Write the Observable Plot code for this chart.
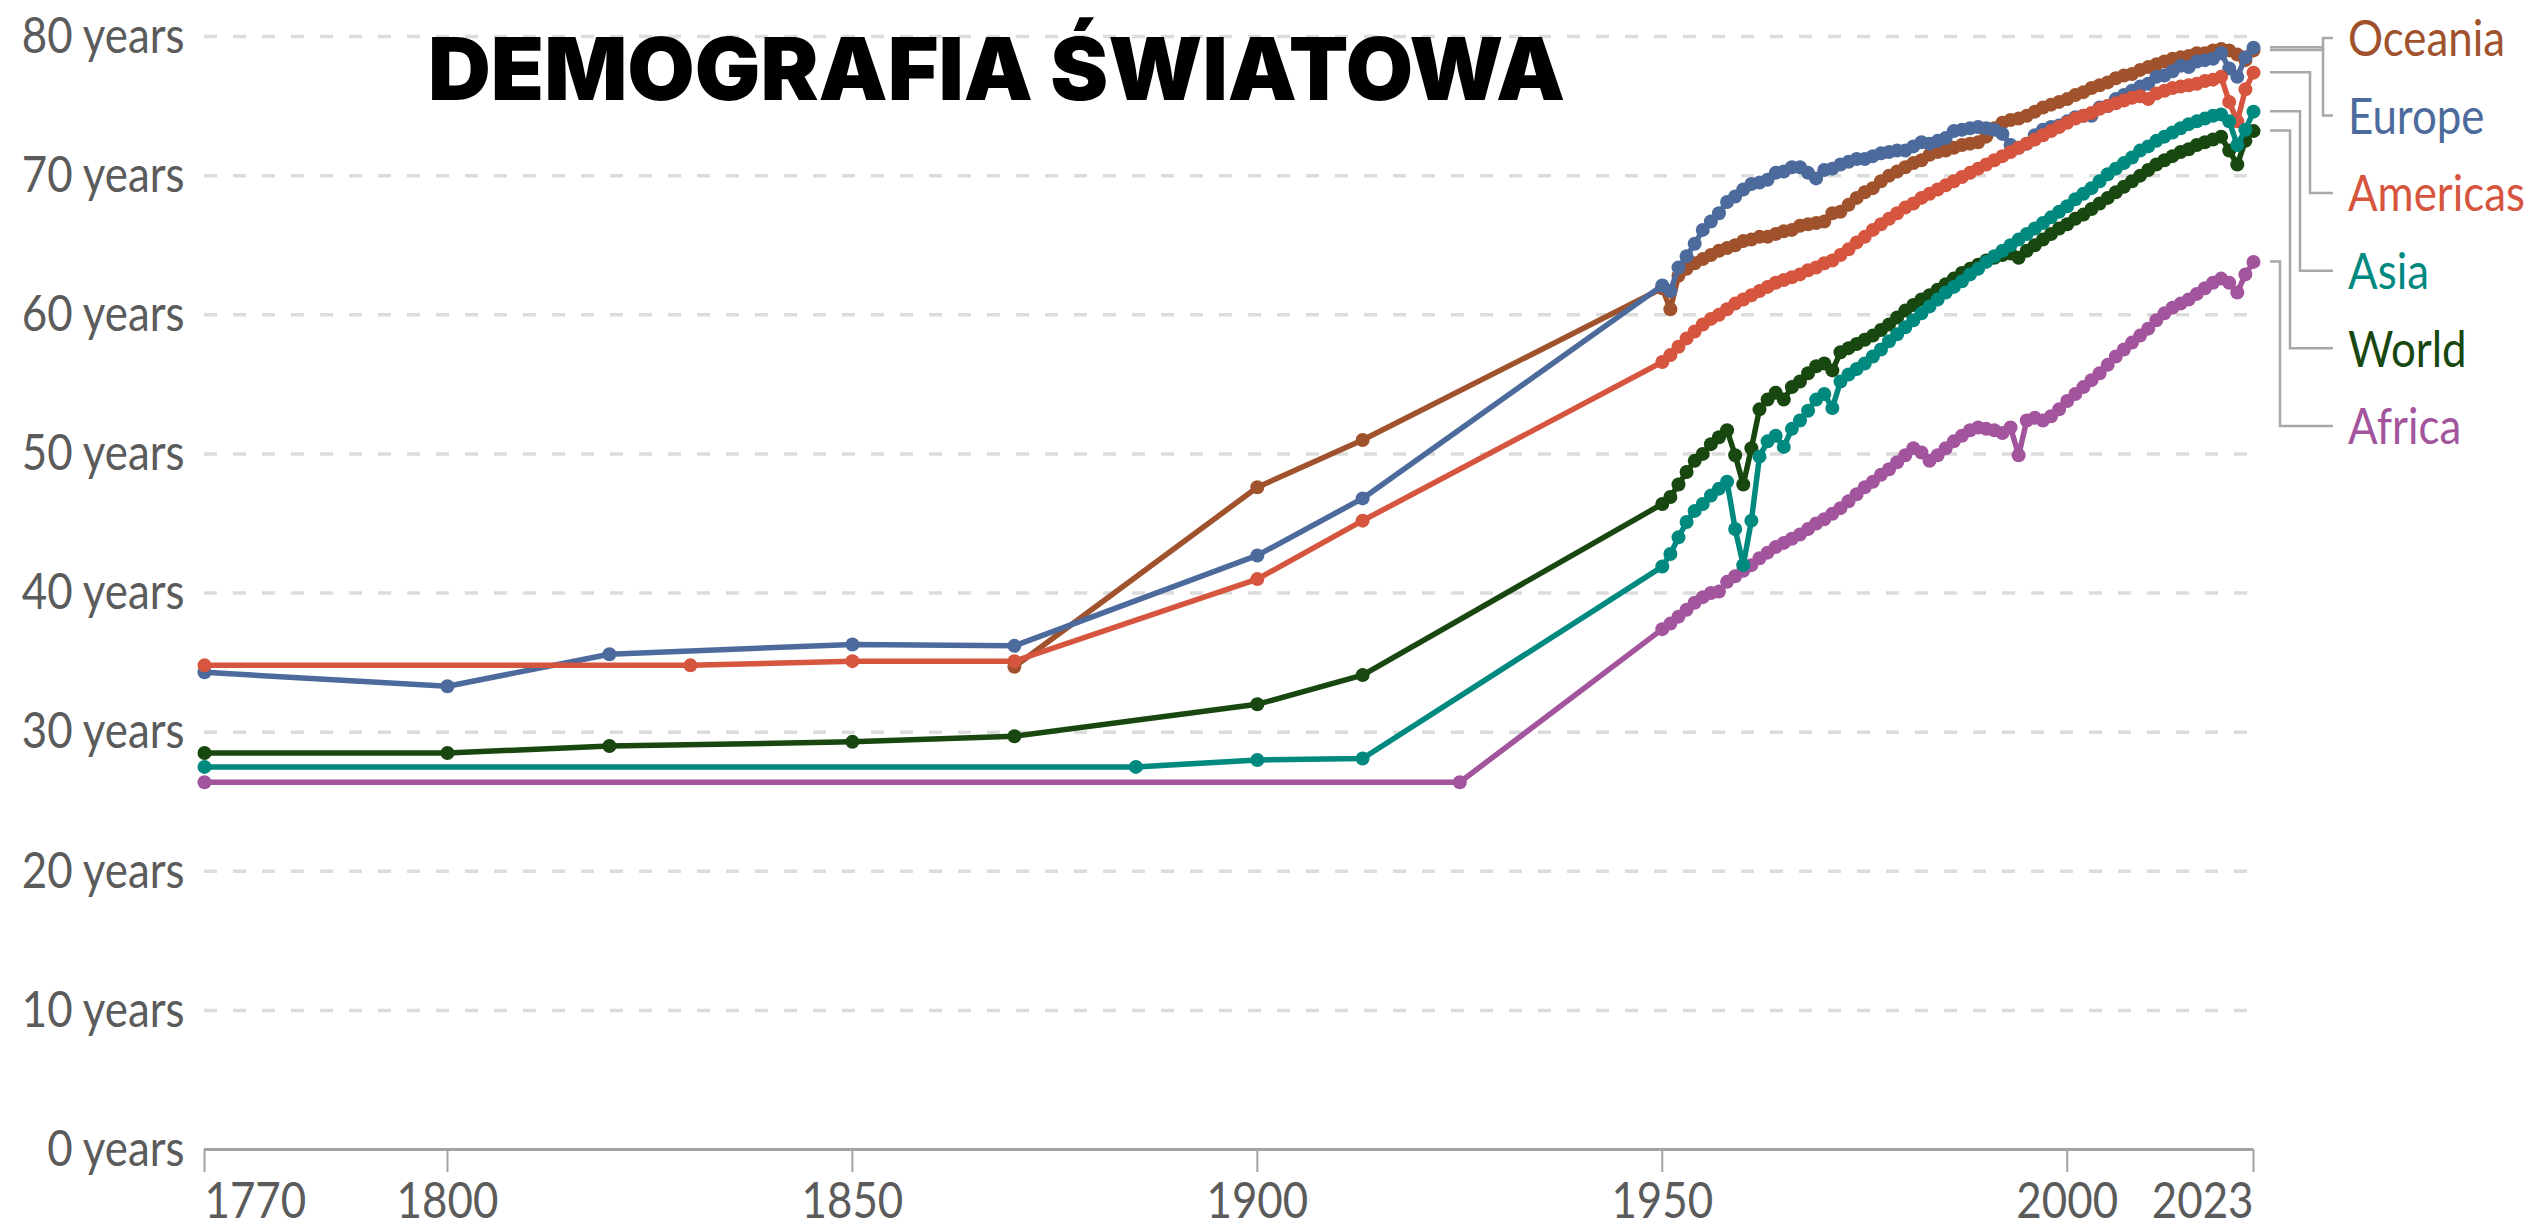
<!DOCTYPE html>
<html>
<head>
<meta charset="utf-8">
<script src="https://cdn.jsdelivr.net/npm/d3@7"></script>
<script src="https://cdn.jsdelivr.net/npm/@observablehq/plot@0.6"></script>
<style>
  html, body { margin: 0; padding: 0; background: #fff; }
  #chart { position: relative; width: 2542px; height: 1232px; overflow: hidden; background: #fff; }
</style>
</head>
<body>
<div id="chart"></div>
<script>
// ---------- DATA ----------
const titleText = "DEMOGRAFIA ŚWIATOWA";
const regions = ["Oceania", "Europe", "Americas", "Asia", "World", "Africa"];
const regionColors = ["#a0522d", "#4c6a9c", "#d6553e", "#00897e", "#18470f", "#a2559c"];
const drawOrder = ["Oceania", "Europe", "Americas", "Africa", "World", "Asia"];

const yTicks = [0, 10, 20, 30, 40, 50, 60, 70, 80];
const xTicksMiddle = [1800, 1850, 1900, 1950, 2000];
const xTickFirst = [1770];
const xTickLast = [2023];

const modernYears = d3.range(1950, 2024);

const oceaniaEarlyYears = [1870, 1900, 1913];
const oceaniaEarly = [34.7, 47.6, 51.0];
const oceaniaModern = [
  61.9, 60.4, 62.8, 63.3, 63.7, 64.0, 64.3, 64.6, 64.8, 65.0,
  65.3, 65.4, 65.6, 65.6, 65.8, 66.0, 66.1, 66.4, 66.5, 66.6,
  66.7, 67.3, 67.4, 67.9, 68.4, 68.8, 69.1, 69.6, 70.0, 70.3,
  70.6, 70.9, 71.1, 71.5, 71.7, 71.8, 72.0, 72.2, 72.3, 72.4,
  72.8, 73.4, 73.8, 74.0, 74.1, 74.3, 74.6, 74.9, 75.1, 75.3,
  75.5, 75.8, 76.0, 76.3, 76.5, 76.7, 77.0, 77.2, 77.3, 77.6,
  77.8, 78.0, 78.2, 78.4, 78.5, 78.6, 78.8, 78.8, 79.0, 79.1,
  79.0, 78.7, 78.3, 79.0
];

const europeEarlyYears = [1770, 1800, 1820, 1850, 1870, 1900, 1913];
const europeEarly = [34.3, 33.3, 35.6, 36.3, 36.2, 42.7, 46.8];
const europeModern = [
  62.1, 61.7, 63.4, 64.2, 65.1, 66.1, 66.7, 67.3, 68.1, 68.5,
  69.0, 69.4, 69.5, 69.7, 70.2, 70.3, 70.6, 70.6, 70.2, 69.8,
  70.4, 70.5, 70.8, 71.0, 71.2, 71.2, 71.4, 71.6, 71.7, 71.8,
  71.8, 72.1, 72.4, 72.3, 72.5, 72.7, 73.2, 73.3, 73.4, 73.5,
  73.4, 73.3, 73.0, 72.2, 72.0, 72.3, 72.9, 73.3, 73.5, 73.6,
  73.9, 74.2, 74.3, 74.3, 74.9, 75.0, 75.5, 75.8, 76.1, 76.4,
  76.6, 77.1, 77.2, 77.5, 77.9, 77.8, 78.2, 78.3, 78.4, 78.8,
  77.7, 77.1, 78.5, 79.2
];

const americasEarlyYears = [1770, 1830, 1850, 1870, 1900, 1913];
const americasEarly = [34.8, 34.8, 35.1, 35.1, 41.0, 45.2];
const americasModern = [
  56.6, 57.1, 57.7, 58.3, 58.8, 59.3, 59.7, 60.0, 60.4, 60.8,
  61.1, 61.4, 61.7, 62.0, 62.3, 62.5, 62.7, 62.9, 63.2, 63.4,
  63.7, 63.9, 64.3, 64.7, 65.2, 65.6, 66.1, 66.5, 66.9, 67.3,
  67.7, 68.0, 68.4, 68.7, 69.0, 69.3, 69.6, 69.9, 70.2, 70.5,
  70.8, 71.1, 71.4, 71.7, 72.0, 72.3, 72.6, 72.9, 73.2, 73.5,
  73.8, 74.1, 74.3, 74.5, 74.8, 75.0, 75.2, 75.4, 75.6, 75.7,
  75.5, 75.9, 76.1, 76.3, 76.4, 76.5, 76.6, 76.8, 76.9, 77.1,
  75.3, 73.9, 76.2, 77.4
];

const asiaEarlyYears = [1770, 1885, 1900, 1913];
const asiaEarly = [27.5, 27.5, 28.0, 28.1];
const asiaModern = [
  41.9, 42.8, 44.0, 45.1, 45.9, 46.4, 47.0, 47.5, 48.0, 44.6,
  42.0, 45.2, 49.8, 50.9, 51.3, 50.5, 51.8, 52.4, 53.1, 53.9,
  54.3, 53.3, 55.2, 55.7, 56.1, 56.5, 57.0, 57.5, 58.1, 58.6,
  59.1, 59.6, 60.1, 60.6, 61.1, 61.6, 62.0, 62.4, 62.9, 63.3,
  63.8, 64.2, 64.6, 65.0, 65.4, 65.8, 66.2, 66.6, 67.0, 67.4,
  67.8, 68.3, 68.7, 69.1, 69.6, 70.1, 70.5, 70.9, 71.3, 71.8,
  72.1, 72.5, 72.8, 73.1, 73.4, 73.7, 73.9, 74.1, 74.3, 74.4,
  73.9, 72.2, 73.3, 74.6
];

const worldEarlyYears = [1770, 1800, 1820, 1850, 1870, 1900, 1913];
const worldEarly = [28.5, 28.5, 29.0, 29.3, 29.7, 32.0, 34.1];
const worldModern = [
  46.4, 46.9, 47.8, 48.7, 49.5, 50.0, 50.7, 51.2, 51.7, 49.9,
  47.8, 50.4, 53.2, 53.9, 54.4, 53.9, 54.8, 55.2, 55.8, 56.3,
  56.5, 56.0, 57.3, 57.6, 57.9, 58.2, 58.5, 58.9, 59.3, 59.8,
  60.3, 60.7, 61.1, 61.4, 61.8, 62.2, 62.6, 63.0, 63.3, 63.6,
  63.9, 64.1, 64.3, 64.4, 64.1, 64.6, 65.0, 65.4, 65.8, 66.2,
  66.5, 66.9, 67.2, 67.6, 68.0, 68.4, 68.8, 69.2, 69.6, 70.0,
  70.4, 70.8, 71.1, 71.4, 71.7, 71.9, 72.2, 72.4, 72.6, 72.8,
  71.8, 70.8, 72.5, 73.2
];

const africaEarlyYears = [1770, 1925];
const africaEarly = [26.4, 26.4];
const africaModern = [
  37.4, 37.8, 38.3, 38.8, 39.3, 39.7, 40.0, 40.1, 40.8, 41.2,
  41.6, 42.0, 42.5, 42.9, 43.3, 43.6, 43.9, 44.2, 44.6, 45.0,
  45.3, 45.7, 46.1, 46.6, 47.1, 47.6, 48.0, 48.5, 48.9, 49.4,
  49.9, 50.4, 50.1, 49.5, 49.9, 50.4, 50.9, 51.3, 51.7, 51.9,
  51.8, 51.7, 51.5, 51.9, 49.9, 52.4, 52.6, 52.4, 52.7, 53.2,
  53.8, 54.3, 54.8, 55.3, 55.8, 56.4, 57.0, 57.5, 58.0, 58.5,
  59.0, 59.6, 60.1, 60.5, 60.8, 61.1, 61.5, 61.9, 62.3, 62.6,
  62.3, 61.6, 62.9, 63.8
];

// ---------- BUILD TABLE ----------
const sources = {
  Oceania: [oceaniaEarlyYears, oceaniaEarly, oceaniaModern],
  Europe: [europeEarlyYears, europeEarly, europeModern],
  Americas: [americasEarlyYears, americasEarly, americasModern],
  Asia: [asiaEarlyYears, asiaEarly, asiaModern],
  World: [worldEarlyYears, worldEarly, worldModern],
  Africa: [africaEarlyYears, africaEarly, africaModern]
};
const rows = {};
for (const r of regions) {
  const [ey, ev, mv] = sources[r];
  rows[r] = ey.map((y, i) => ({region: r, year: y, value: ev[i]}))
    .concat(modernYears.map((y, i) => ({region: r, year: y, value: mv[i]})));
}
const colorOf = Object.fromEntries(regions.map((r, i) => [r, regionColors[i]]));

// ---------- PLOT ----------
const W = 2542, H = 1232;
const FONT = "Lato, 'Open Sans', sans-serif";
const axisTextColor = "#5b5b5b";
const axisLineColor = "#a3a3a3";

const seriesMarks = drawOrder.flatMap(r => [
  Plot.line(rows[r], {x: "year", y: "value", stroke: colorOf[r], strokeWidth: 5.5, curve: "linear"}),
  Plot.dot(rows[r], {x: "year", y: "value", fill: colorOf[r], r: 7, stroke: "none"})
]);

const xAxisStyle = {
  tickSize: 23, tickPadding: 9, tickFormat: d => String(d),
  fontSize: 51, fill: axisTextColor, stroke: axisLineColor, strokeWidth: 2, label: null
};

const plot = Plot.plot({
  width: W,
  height: H,
  marginLeft: 204,
  marginRight: 289,
  marginTop: 36,
  marginBottom: 83,
  x: {type: "linear", domain: [1770, 2023]},
  y: {domain: [0, 80]},
  style: {fontFamily: FONT, background: "#fff", overflow: "visible"},
  marks: [
    Plot.ruleY(yTicks.filter(d => d > 0), {stroke: "#dcdcdc", strokeWidth: 3.5, strokeDasharray: "13,16"}),
    Plot.axisY(yTicks, {
      tickSize: 0, tickPadding: 20, tickFormat: d => `${d} years`,
      fontSize: 51, fill: axisTextColor, label: null
    }),
    Plot.axisX(xTicksMiddle, {...xAxisStyle}),
    Plot.axisX(xTickFirst, {...xAxisStyle, textAnchor: "start"}),
    Plot.axisX(xTickLast, {...xAxisStyle, textAnchor: "end"}),
    Plot.ruleY([0], {stroke: axisLineColor, strokeWidth: 3}),
    ...seriesMarks
  ]
});

// squeeze axis text horizontally (the reference font looks condensed); keep em-based y offsets
function squeeze(el, s) {
  const t = el.getAttribute("transform") || "";
  const x = el.getAttribute("x");
  let extra = "";
  if (x !== null && !isNaN(+x)) {
    extra = ` translate(${+x},0)`;
    el.removeAttribute("x");
  }
  el.setAttribute("transform", `${t}${extra} scale(${s},1)`);
}
plot.querySelectorAll('g[aria-label$="tick label"] text').forEach(el => squeeze(el, 0.86));

// ---------- LEGEND WITH CONNECTORS ----------
const sx = plot.scale("x"), sy = plot.scale("y");
const svg = d3.select(plot);
const xEnd = sx.apply(2023);
const vertOffsets = {Oceania: 70, Europe: 70, Americas: 57, Asia: 47, World: 37, Africa: 27};
const labelGap = 77.6;
const legendG = svg.append("g").attr("aria-label", "legend").attr("text-anchor", "start");
let prev = null;
regions.forEach((r, i) => {
  const last = rows[r][rows[r].length - 1].value;
  const yEnd = sy.apply(last);
  let yLab;
  if (prev === null) yLab = Math.max(sy.apply(80) + 1, yEnd - 12);
  else yLab = Math.max(yEnd, prev + labelGap);
  prev = yLab;
  const xv = xEnd + vertOffsets[r];
  legendG.append("path")
    .attr("d", `M${xEnd + 17},${yEnd}H${xv}V${yLab}H${xEnd + 80}`)
    .attr("fill", "none")
    .attr("stroke", "#a8a8a8")
    .attr("stroke-width", 2.5);
  legendG.append("text")
    .attr("transform", `translate(${xEnd + 95},${yLab}) scale(0.86,1)`)
    .attr("dy", "0.36em")
    .attr("text-anchor", "start")
    .attr("font-family", FONT)
    .attr("font-size", 51)
    .attr("fill", colorOf[r])
    .text(r);
});

// ---------- TITLE ----------
svg.append("text")
  .attr("x", 428)
  .attr("y", 100)
  .attr("text-anchor", "start")
  .attr("font-family", "Inter, 'DejaVu Sans', sans-serif")
  .attr("font-weight", 900)
  .attr("font-size", 87)
  .attr("fill", "#000")
  .text(titleText);

document.getElementById("chart").appendChild(plot);
</script>
</body>
</html>
